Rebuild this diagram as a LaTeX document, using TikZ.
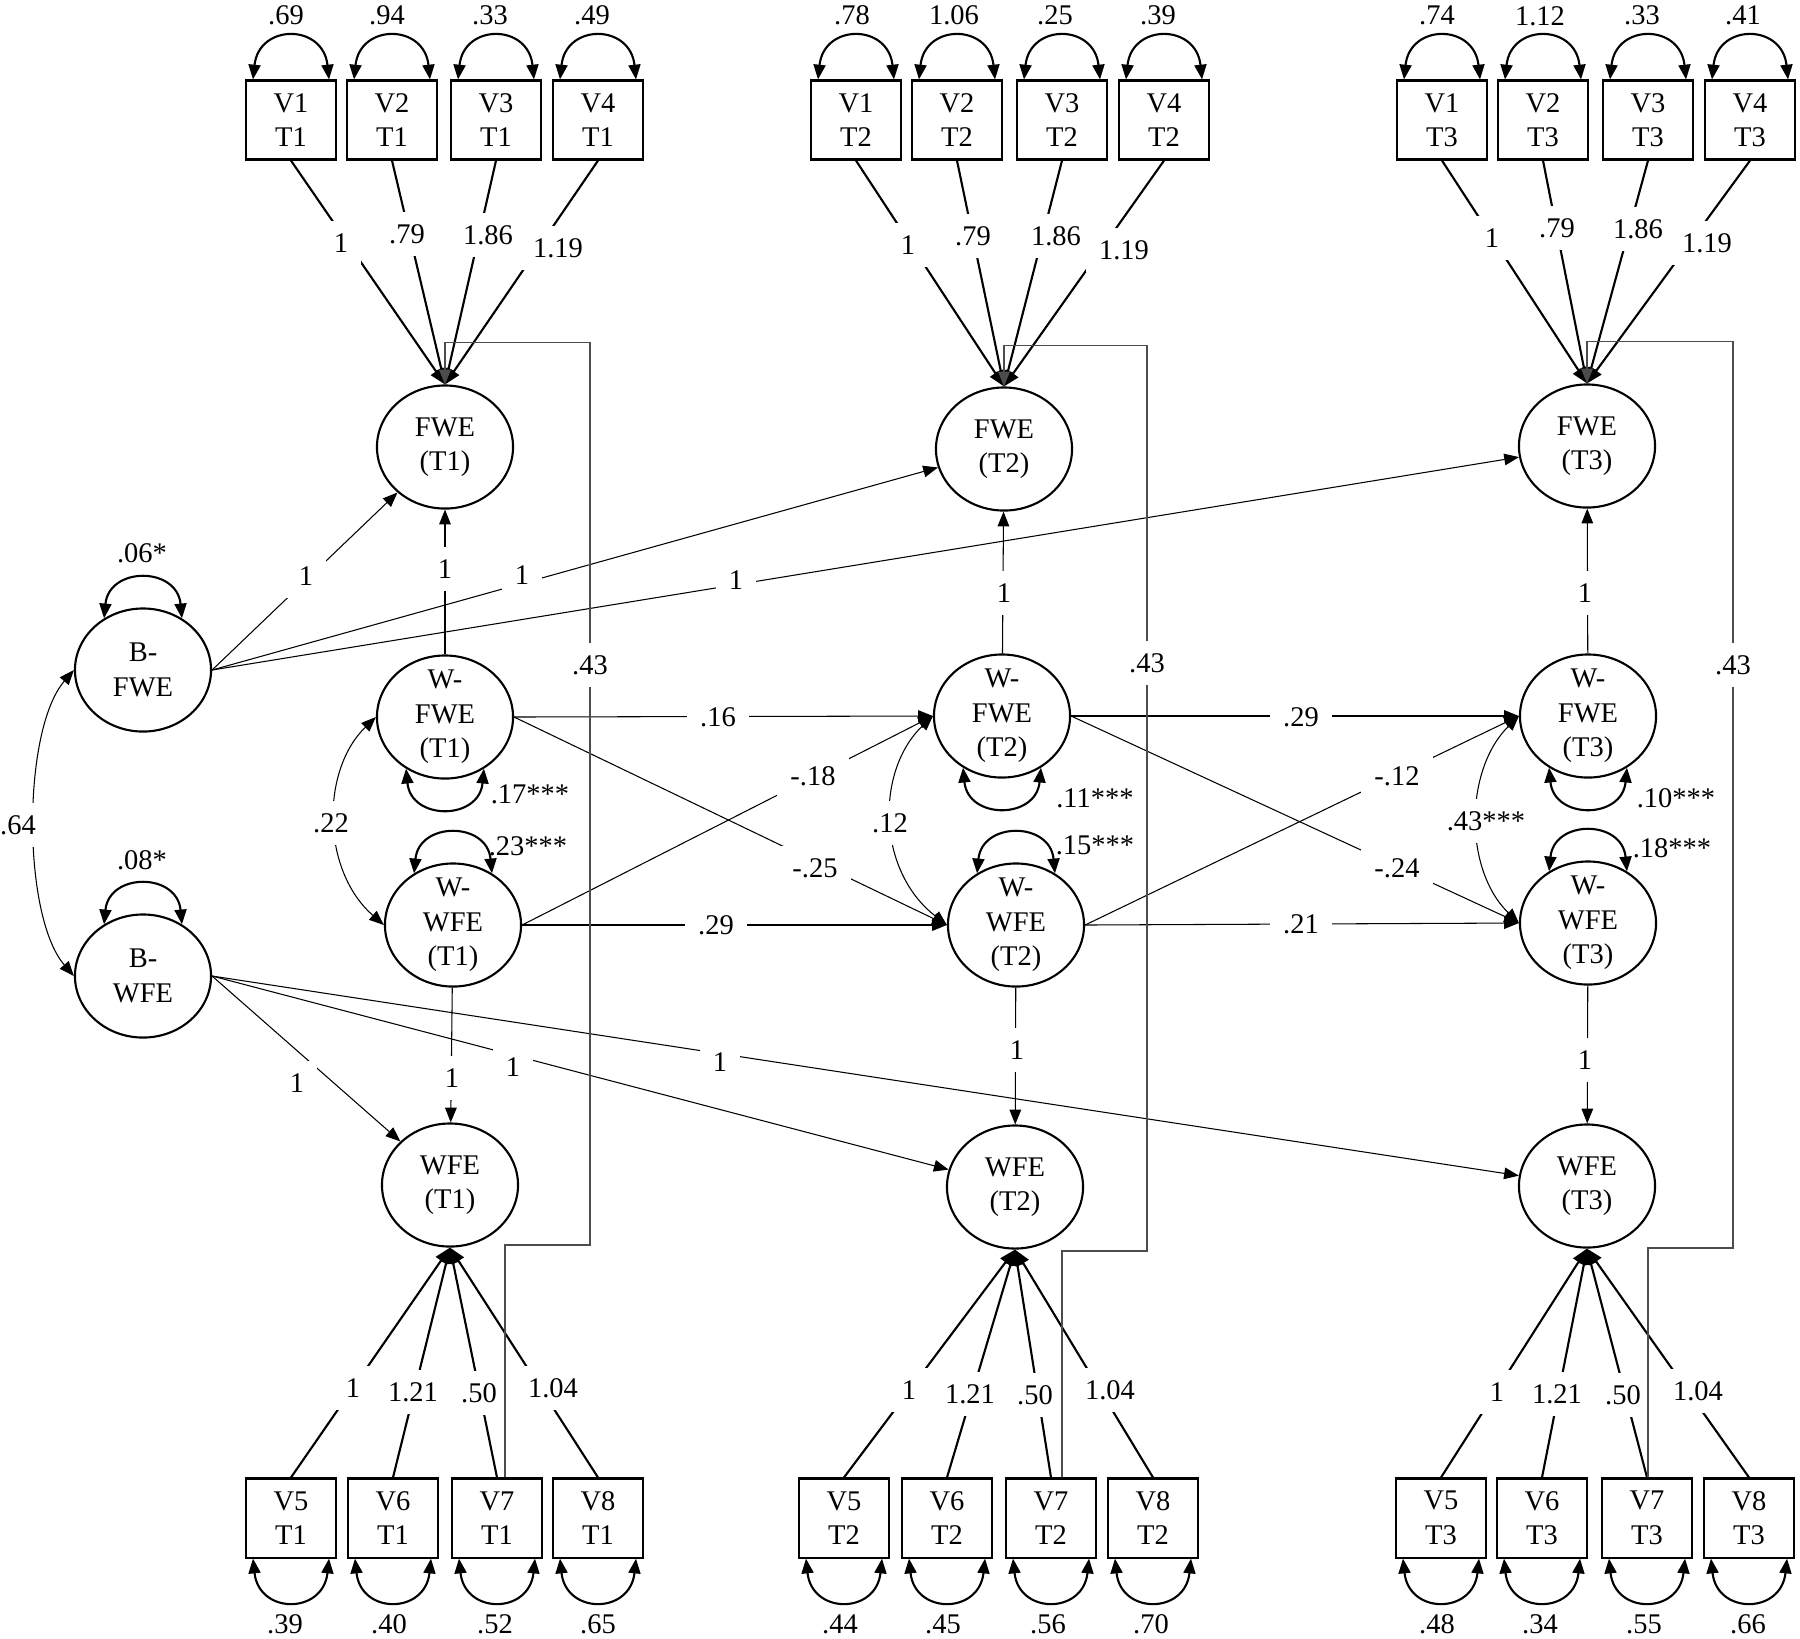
\documentclass[tikz,border=0pt]{standalone}
\usepackage{fontspec}
\setmainfont{Liberation Serif}
\usetikzlibrary{arrows.meta,calc,shapes.geometric}
\begin{document}
\begin{tikzpicture}[x=0.01cm,y=-0.01cm,
  >={Triangle[length=4.2pt,width=3.3pt]},
  every node/.style={font=\fontsize{8.1}{9.8}\selectfont},
  lat/.style={draw, line width=0.6pt, ellipse, minimum width=1.36cm, minimum height=1.23cm, align=center, inner xsep=0pt, inner ysep=-4pt},
  obs/.style={draw, line width=0.6pt, rectangle, minimum width=0.9cm, minimum height=0.79cm, align=center, inner sep=0pt},
  load/.style={line width=0.6pt, ->, >={Triangle[length=4.5pt,width=3.6pt]}},
  pth/.style={line width=0.3pt, ->},
  cov/.style={line width=0.3pt, <->},
  var/.style={line width=0.6pt, <->, >={Triangle[length=4.2pt,width=3.4pt]}},
  xl/.style={line width=0.45pt, draw=black!70, ->},
  lbl/.style={fill=white, inner xsep=3.8pt, inner ysep=3.5pt},
  vlbl/.style={inner sep=0pt}
]
\fill[white] (0,0) rectangle (1800,1638);
\useasboundingbox (0,0) rectangle (1800,1638);

% latent variables
\node[lat] (fwe1) at (445,447) {FWE\\(T1)};
\node[lat] (fwe2) at (1004,449) {FWE\\(T2)};
\node[lat] (fwe3) at (1587,446) {FWE\\(T3)};
\node[lat] (bfwe) at (143,670) {B-\\FWE};
\node[lat] (bwfe) at (143,976) {B-\\WFE};
\node[lat] (wfwe1) at (445,717) {W-\\FWE\\(T1)};
\node[lat] (wfwe2) at (1002,716) {W-\\FWE\\(T2)};
\node[lat] (wfwe3) at (1588,716) {W-\\FWE\\(T3)};
\node[lat] (wwfe1) at (453,925) {W-\\WFE\\(T1)};
\node[lat] (wwfe2) at (1016,925) {W-\\WFE\\(T2)};
\node[lat] (wwfe3) at (1588,923) {W-\\WFE\\(T3)};
\node[lat] (wfe1) at (450,1185) {WFE\\(T1)};
\node[lat] (wfe2) at (1015,1187) {WFE\\(T2)};
\node[lat] (wfe3) at (1587,1186) {WFE\\(T3)};

% observed variables
\foreach \tm/\xa/\xb/\xc/\xd in {1/291/392/496/598,2/856/957/1062/1164,3/1442/1543/1648/1750}{
  \node[obs] (v1t\tm) at (\xa,120) {V1\\T\tm};
  \node[obs] (v2t\tm) at (\xb,120) {V2\\T\tm};
  \node[obs] (v3t\tm) at (\xc,120) {V3\\T\tm};
  \node[obs] (v4t\tm) at (\xd,120) {V4\\T\tm};
}
\foreach \tm/\xa/\xb/\xc/\xd in {1/291/393/497/598,2/844/947/1051/1153,3/1441/1542/1647/1749}{
  \node[obs] (v5t\tm) at (\xa,1518) {V5\\T\tm};
  \node[obs] (v6t\tm) at (\xb,1518) {V6\\T\tm};
  \node[obs] (v7t\tm) at (\xc,1518) {V7\\T\tm};
  \node[obs] (v8t\tm) at (\xd,1518) {V8\\T\tm};
}

% loadings and residual variances
\foreach \tm in {1,2,3}{
  \foreach \vv in {1,2,3,4}{
    \draw[load] (v\vv t\tm.south) -- (fwe\tm.north);
    \draw[var] ([xshift=-0.38cm]v\vv t\tm.north) .. controls +(6,-56) and +(-6,-56) .. ([xshift=0.38cm]v\vv t\tm.north);
  }
  \foreach \vv in {5,6,7,8}{
    \draw[load] (v\vv t\tm.north) -- (wfe\tm.south);
    \draw[var] ([xshift=-0.38cm]v\vv t\tm.south) .. controls +(6,56) and +(-6,56) .. ([xshift=0.38cm]v\vv t\tm.south);
  }
}

% latent variances
\draw[var] (bfwe.127) .. controls +(5,-52) and +(-5,-52) .. (bfwe.53);
\draw[var] (bwfe.127) .. controls +(5,-52) and +(-5,-52) .. (bwfe.53);
\foreach \tm in {1,2,3}{
  \draw[var] (wfwe\tm.233) .. controls +(5,52) and +(-5,52) .. (wfwe\tm.307);
  \draw[var] (wwfe\tm.127) .. controls +(5,-52) and +(-5,-52) .. (wwfe\tm.53);
}

% structural paths
\draw[pth] (bfwe.east) -- (fwe1);
\draw[pth] (bfwe.east) -- (fwe2);
\draw[pth] (bfwe.east) -- (fwe3);
\draw[pth] (bwfe.east) -- (wfe1);
\draw[pth] (bwfe.east) -- (wfe2);
\draw[pth] (bwfe.east) -- (wfe3);
\foreach \tm in {1,2,3}{
  \draw[pth] (wfwe\tm) -- (fwe\tm);
  \draw[pth] (wwfe\tm) -- (wfe\tm);
}
\draw[pth] (wfwe1.east) -- (wfwe2.west);
\draw[pth] (wfwe1.east) -- (wwfe2.west);
\draw[pth] (wwfe1.east) -- (wfwe2.west);
\draw[pth] (wwfe1.east) -- (wwfe2.west);
\draw[pth] (wfwe2.east) -- (wfwe3.west);
\draw[pth] (wfwe2.east) -- (wwfe3.west);
\draw[pth] (wwfe2.east) -- (wfwe3.west);
\draw[pth] (wwfe2.east) -- (wwfe3.west);

% covariances
\draw[cov] (bfwe.west) .. controls (22,730) and (22,916) .. (bwfe.west);
\draw[cov] (wfwe1.west) .. controls (321,770) and (321,870) .. (wwfe1.west);
\draw[cov] (wfwe2.west) .. controls (876,770) and (876,870) .. (wwfe2.west);
\draw[cov] (wfwe3.west) .. controls (1464,770) and (1464,870) .. (wwfe3.west);

% loading labels (top)
\node[lbl] (l11) at (341,243) {1};
\node[lbl] (l12) at (407,234) {.79};
\node[lbl] (l13) at (488,235) {1.86};
\node[lbl] (l14) at (558,248) {1.19};
\node[lbl] (l21) at (908,245) {1};
\node[lbl] (l22) at (973,236) {.79};
\node[lbl] (l23) at (1056,236) {1.86};
\node[lbl] (l24) at (1124,250) {1.19};
\node[lbl] (l31) at (1492,238) {1};
\node[lbl] (l32) at (1557,228) {.79};
\node[lbl] (l33) at (1638,229) {1.86};
\node[lbl] (l34) at (1707,243) {1.19};
% loading labels (bottom)
\node[lbl] (m11) at (353,1388) {1};
\node[lbl] (m12) at (413,1392) {1.21};
\node[lbl] (m13) at (479,1393) {.50};
\node[lbl] (m14) at (553,1388) {1.04};
\node[lbl] (m21) at (909,1390) {1};
\node[lbl] (m22) at (970,1394) {1.21};
\node[lbl] (m23) at (1035,1395) {.50};
\node[lbl] (m24) at (1110,1390) {1.04};
\node[lbl] (m31) at (1497,1392) {1};
\node[lbl] (m32) at (1557,1394) {1.21};
\node[lbl] (m33) at (1623,1395) {.50};
\node[lbl] (m34) at (1698,1391) {1.04};

% path labels
\node[lbl] (p1) at (306,576) {1};
\node[lbl] (p2) at (522,575) {1};
\node[lbl] (p3) at (736,580) {1};
\node[lbl] (p4) at (445,569) {1};
\node[lbl] (p5) at (1004,593) {1};
\node[lbl] (p6) at (1585,593) {1};
\node[lbl] (p7) at (452,1078) {1};
\node[lbl] (p8) at (1017,1050) {1};
\node[lbl] (p9) at (1585,1060) {1};
\node[lbl] (p10) at (297,1083) {1};
\node[lbl] (p11) at (513,1067) {1};
\node[lbl] (p12) at (720,1062) {1};
\node[lbl] (c1) at (718,717) {.16};
\node[lbl] (c2) at (716,925) {.29};
\node[lbl] (c3) at (813,776) {-.18};
\node[lbl] (c4) at (815,868) {-.25};
\node[lbl] (c5) at (1301,717) {.29};
\node[lbl] (c6) at (1301,924) {.21};
\node[lbl] (c7) at (1397,776) {-.12};
\node[lbl] (c8) at (1397,868) {-.24};
\node[lbl] (k1) at (18,825) {.64};
\node[lbl] (k2) at (331,823) {.22};
\node[lbl] (k3) at (890,823) {.12};
\node[lbl] (k4) at (1486,821) {.43***};

% cross loadings .43
\draw[xl] ([xshift=0.08cm]v7t1.north) |- (590,1245) |- ($(fwe1.north)+(0,-42)$) -- (fwe1.north);
\draw[xl] ([xshift=0.11cm]v7t2.north) |- (1147,1251) |- ($(fwe2.north)+(0,-41)$) -- (fwe2.north);
\draw[xl] ([xshift=0.01cm]v7t3.north) |- (1733,1248) |- ($(fwe3.north)+(0,-42)$) -- (fwe3.north);
\node[lbl] (x1) at (590,665) {.43};
\node[lbl] (x2) at (1147,663) {.43};
\node[lbl] (x3) at (1733,665) {.43};

% variance labels (top indicators)
\node[vlbl] (e11) at (286,15) {.69};
\node[vlbl] (e12) at (387,15) {.94};
\node[vlbl] (e13) at (490,15) {.33};
\node[vlbl] (e14) at (592,15) {.49};
\node[vlbl] (e21) at (852,15) {.78};
\node[vlbl] (e22) at (954,15) {1.06};
\node[vlbl] (e23) at (1055,15) {.25};
\node[vlbl] (e24) at (1158,15) {.39};
\node[vlbl] (e31) at (1437,15) {.74};
\node[vlbl] (e32) at (1540,16) {1.12};
\node[vlbl] (e33) at (1642,15) {.33};
\node[vlbl] (e34) at (1743,15) {.41};
% variance labels (bottom indicators)
\node[vlbl] (f11) at (285,1624) {.39};
\node[vlbl] (f12) at (389,1624) {.40};
\node[vlbl] (f13) at (495,1624) {.52};
\node[vlbl] (f14) at (598,1624) {.65};
\node[vlbl] (f21) at (840,1624) {.44};
\node[vlbl] (f22) at (943,1624) {.45};
\node[vlbl] (f23) at (1048,1624) {.56};
\node[vlbl] (f24) at (1151,1624) {.70};
\node[vlbl] (f31) at (1437,1624) {.48};
\node[vlbl] (f32) at (1540,1624) {.34};
\node[vlbl] (f33) at (1644,1624) {.55};
\node[vlbl] (f34) at (1748,1624) {.66};
% latent variance labels
\node[vlbl] (g1) at (142,553) {.06*};
\node[vlbl] (g2) at (142,860) {.08*};
\node[vlbl] (g3) at (530,794) {.17***};
\node[vlbl] (g4) at (528,846) {.23***};
\node[vlbl] (g5) at (1095,798) {.11***};
\node[vlbl] (g6) at (1095,845) {.15***};
\node[vlbl] (g7) at (1676,798) {.10***};
\node[vlbl] (g8) at (1672,848) {.18***};
\end{tikzpicture}
\end{document}
